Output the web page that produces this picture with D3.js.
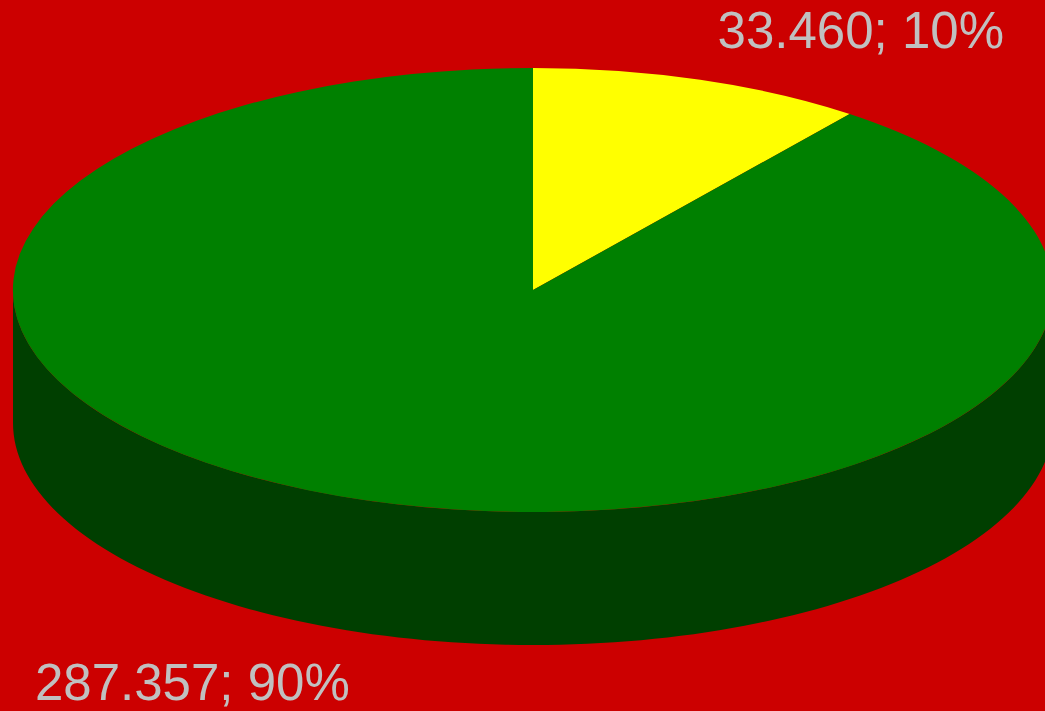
<!DOCTYPE html>
<html lang="en">
<head>
  <meta charset="UTF-8">
  <title>3D Pie</title>
  <script src="https://d3js.org/d3.v7.min.js"></script>
  <style>
    html, body {
      margin: 0;
      padding: 0;
      background-color: #cc0000;
      overflow: hidden;
    }
    svg {
      display: block;
    }
    .label {
      font-family: "Liberation Sans", Arial, sans-serif;
      font-size: 51px;
      fill: #c0c0c0;
    }
  </style>
</head>
<body>
  <div id="chart"></div>

  <script>
    // Slice data (drawn clockwise from 12 o'clock)
    const values = [33.460, 287.357];
    const labels = ["33.460; 10%", "287.357; 90%"];
    const topColors = ["#ffff00", "#008000"];
    const sideColors = ["#7f7f00", "#003f00"];

    const width = 1045;
    const height = 711;
    const cx = 533, cy = 290;
    const rx = 520, ry = 222;
    const depth = 133;

    // label spots (layout, not data)
    const labelPos = [
      { x: 1004, y: 48, anchor: "end" },
      { x: 35, y: 700, anchor: "start" }
    ];

    const svg = d3.select("#chart")
      .append("svg")
      .attr("width", width)
      .attr("height", height);

    svg.append("rect")
      .attr("width", width)
      .attr("height", height)
      .attr("fill", "#cc0000");

    const pie = d3.pie().sort(null).value(d => d);
    const arcs = pie(values);

    // point on the ellipse for an angle measured clockwise from 12 o'clock
    const px = a => cx + rx * Math.sin(a);
    const py = (a, dz) => cy - ry * Math.cos(a) + dz;

    // side walls: only the front half (pi/2 .. 3pi/2) is visible
    const side = svg.append("g");
    arcs.forEach((a, i) => {
      const a0 = Math.max(a.startAngle, Math.PI / 2);
      const a1 = Math.min(a.endAngle, 3 * Math.PI / 2);
      if (a1 <= a0) return;
      const n = 120;
      const pts = d3.range(n + 1).map(k => a0 + (a1 - a0) * k / n);
      const top = pts.map(t => [px(t), py(t, 0)]);
      const bottom = pts.slice().reverse().map(t => [px(t), py(t, depth)]);
      side.append("path")
        .attr("d", d3.line()(top.concat(bottom)) + "Z")
        .attr("fill", sideColors[i]);
    });

    // top face: unit arcs stretched into an ellipse
    const arc = d3.arc().innerRadius(0).outerRadius(1);
    svg.append("g")
      .attr("transform", `translate(${cx},${cy}) scale(${rx},${ry})`)
      .selectAll("path")
      .data(arcs)
      .join("path")
        .attr("d", arc)
        .attr("fill", (d, i) => topColors[i]);

    svg.selectAll(".label")
      .data(labels)
      .join("text")
        .attr("class", "label")
        .attr("x", (d, i) => labelPos[i].x)
        .attr("y", (d, i) => labelPos[i].y)
        .attr("text-anchor", (d, i) => labelPos[i].anchor)
        .text(d => d);
  </script>
</body>
</html>
